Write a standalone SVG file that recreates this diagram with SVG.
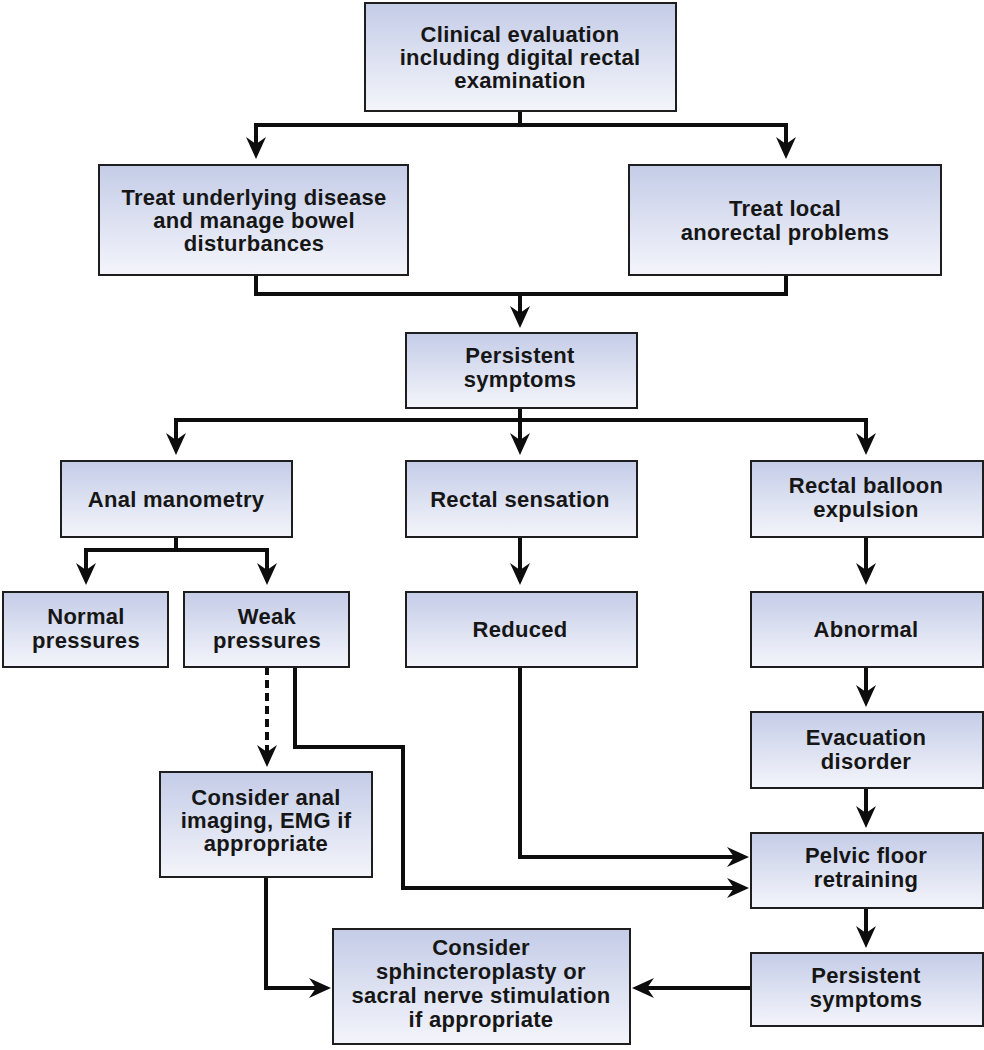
<svg xmlns="http://www.w3.org/2000/svg" width="984" height="1050" viewBox="0 0 984 1050">
<style>
.box{fill:url(#g);stroke:#1e1e1e;stroke-width:2}
.t{font-family:"Liberation Sans",Arial,sans-serif;font-weight:bold;font-size:22px;letter-spacing:0.3px;fill:#161616;text-anchor:middle}
.c{fill:none;stroke:#0d0d0d;stroke-width:4;stroke-linejoin:miter}
.a{marker-end:url(#ah)}
.d{stroke-dasharray:8 5}
</style>
<defs>
<linearGradient id="g" x1="0" y1="0" x2="0" y2="1">
<stop offset="0" stop-color="#c4cce7"/>
<stop offset="1" stop-color="#f4f5fb"/>
</linearGradient>
<marker id="ah" markerUnits="userSpaceOnUse" orient="auto" refX="0" refY="0" markerWidth="30" markerHeight="30" overflow="visible">
<path d="M12,0 L-10,-10 L-3,0 L-10,10 Z" fill="#0d0d0d"/>
</marker>
</defs>
<rect width="984" height="1050" fill="#ffffff"/>
<g id="connectors">
<path class="c a" d="M520,111 V125 H256 V147"/>
<path class="c a" d="M520,125 H786 V147"/>
<path class="c" d="M256,275 V294 H786 V275"/>
<path class="c a" d="M520,294 V316"/>
<path class="c a" d="M520,408 V443"/>
<path class="c a" d="M520,420 H176 V443"/>
<path class="c a" d="M520,420 H866 V443"/>
<path class="c a" d="M176,537 V550 H86 V573"/>
<path class="c a" d="M176,550 H267 V573"/>
<path class="c a" d="M520,537 V573"/>
<path class="c a" d="M866,537 V573"/>
<path class="c a" d="M866,667 V695"/>
<path class="c a" d="M866,788 V816"/>
<path class="c a" d="M866,908 V936"/>
<path class="c a d" d="M267,667 V755"/>
<path class="c a" d="M295,667 V747 H403 V888 H737"/>
<path class="c a" d="M520,667 V857 H737"/>
<path class="c a" d="M266,877 V988 H319"/>
<path class="c a" d="M751,988 H644"/>
</g>
<g id="n1"><rect class="box" x="365" y="3" width="311" height="108"/>
<text class="t" x="520" y="42">Clinical evaluation</text>
<text class="t" x="520" y="65">including digital rectal</text>
<text class="t" x="520" y="88">examination</text></g>
<g id="n2"><rect class="box" x="99" y="165" width="309" height="110"/>
<text class="t" x="254" y="205">Treat underlying disease</text>
<text class="t" x="254" y="228">and manage bowel</text>
<text class="t" x="254" y="251">disturbances</text></g>
<g id="n3"><rect class="box" x="629" y="165" width="312" height="110"/>
<text class="t" x="785" y="216">Treat local</text>
<text class="t" x="785" y="240">anorectal problems</text></g>
<g id="n4"><rect class="box" x="406" y="333" width="231" height="75"/>
<text class="t" x="520" y="363">Persistent</text>
<text class="t" x="520" y="387">symptoms</text></g>
<g id="n5"><rect class="box" x="61" y="461" width="231" height="76"/>
<text class="t" x="176" y="507">Anal manometry</text></g>
<g id="n6"><rect class="box" x="406" y="461" width="231" height="76"/>
<text class="t" x="520" y="507">Rectal sensation</text></g>
<g id="n7"><rect class="box" x="751" y="461" width="232" height="76"/>
<text class="t" x="866" y="493">Rectal balloon</text>
<text class="t" x="866" y="517">expulsion</text></g>
<g id="n8"><rect class="box" x="3" y="592" width="165" height="75"/>
<text class="t" x="86" y="624">Normal</text>
<text class="t" x="86" y="648">pressures</text></g>
<g id="n9"><rect class="box" x="184" y="592" width="165" height="75"/>
<text class="t" x="267" y="624">Weak</text>
<text class="t" x="267" y="648">pressures</text></g>
<g id="n10"><rect class="box" x="406" y="592" width="231" height="75"/>
<text class="t" x="520" y="637">Reduced</text></g>
<g id="n11"><rect class="box" x="751" y="592" width="232" height="75"/>
<text class="t" x="866" y="637">Abnormal</text></g>
<g id="n12"><rect class="box" x="751" y="712" width="232" height="76"/>
<text class="t" x="866" y="745">Evacuation</text>
<text class="t" x="866" y="769">disorder</text></g>
<g id="n13"><rect class="box" x="751" y="833" width="232" height="75"/>
<text class="t" x="866" y="863">Pelvic floor</text>
<text class="t" x="866" y="887">retraining</text></g>
<g id="n14"><rect class="box" x="751" y="953" width="232" height="73"/>
<text class="t" x="866" y="983">Persistent</text>
<text class="t" x="866" y="1007">symptoms</text></g>
<g id="n15"><rect class="box" x="160" y="772" width="212" height="105"/>
<text class="t" x="266" y="805">Consider anal</text>
<text class="t" x="266" y="828">imaging, EMG if</text>
<text class="t" x="266" y="851">appropriate</text></g>
<g id="n16"><rect class="box" x="333" y="929" width="297" height="115"/>
<text class="t" x="481" y="955">Consider</text>
<text class="t" x="481" y="979">sphincteroplasty or</text>
<text class="t" x="481" y="1003">sacral nerve stimulation</text>
<text class="t" x="481" y="1027">if appropriate</text></g>
</svg>
